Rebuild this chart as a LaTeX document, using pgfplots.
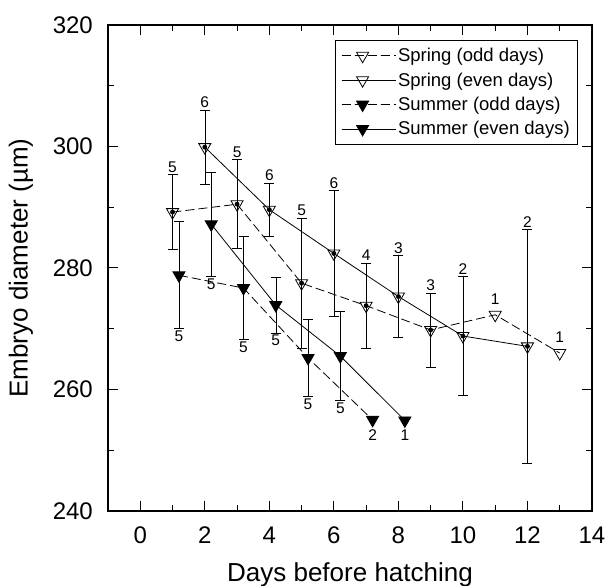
\documentclass[border=0pt]{standalone}
\usepackage{fontspec}
\setmainfont{Liberation Sans}
\usepackage{pgfplots}
\usepackage{pgfplotstable}
\pgfplotsset{compat=1.18}

% spring, odd days
\pgfplotstableread{
x y
1 289.2
3 290.5
5 277.5
7 273.8
9 269.8
11 272.3
13 266.0
}\springodd
\pgfplotstableread{
x y e
1 289.2 6.2
3 290.5 7.3
5 277.5 10.7
7 273.8 7.0
9 269.8 6.1
}\springodderr
\pgfplotstableread{
x y n
1 295.4 5
3 297.8 5
5 288.2 5
7 280.8 4
9 275.9 3
11 273.6 1
13 267.3 1
}\springoddn

% spring, even days
\pgfplotstableread{
x y e
2 299.9 6.1
4 289.6 4.4
6 282.4 10.3
8 275.3 6.7
10 268.8 9.8
12 267.1 19.2
}\springeven
\pgfplotstableread{
x y n
2 306.0 6
4 294.0 6
6 292.7 6
8 282.0 3
10 278.6 2
12 286.3 2
}\springevenn

% summer, odd days
\pgfplotstableread{
x y
1.2 278.8
3.2 276.7
5.2 265.2
7.2 255.0
}\summerodd
\pgfplotstableread{
x y e
1.2 278.8 8.8
3.2 276.7 8.5
5.2 265.2 6.3
}\summerodderr
\pgfplotstableread{
x y n
1.2 270.0 5
3.2 268.2 5
5.2 258.9 5
7.2 253.8 2
}\summeroddn

% summer, even days
\pgfplotstableread{
x y
2.2 287.2
4.2 273.9
6.2 265.5
8.2 254.9
}\summereven
\pgfplotstableread{
x y e
2.2 287.2 8.6
4.2 273.9 4.6
6.2 265.5 7.3
}\summereveneerr
\pgfplotstableread{
x y n
2.2 278.6 5
4.2 269.3 5
6.2 258.2 5
8.2 253.7 1
}\summerevenn

\pgfplotsset{
  errbar/.style={forget plot, only marks, mark=none, black, line width=0.8pt,
    error bars/.cd, y dir=both, y explicit,
    error mark options={rotate=90, mark size=5pt, line width=0.8pt}},
  nlabel/.style={forget plot, only marks, mark=none,
    point meta=explicit symbolic, nodes near coords,
    nodes near coords style={font=\fontsize{15.5}{17}\selectfont, inner sep=2pt}},
}

\begin{document}
\begin{tikzpicture}
\path[use as bounding box] (-108pt,-75pt) rectangle (500pt,511pt);
\begin{axis}[
  scale only axis, width=484pt, height=486pt,
  xmin=-1, xmax=14, ymin=240, ymax=320,
  xtick={0,2,...,14}, ytick={240,260,...,320},
  minor x tick num=1, minor y tick num=1,
  tick align=inside,
  major tick length=10pt, minor tick length=6pt,
  axis line style={line width=1.2pt},
  every tick/.style={black, line width=1pt},
  /pgf/number format/assume math mode=true,
  tick label style={font=\fontsize{24}{28}\selectfont},
  xticklabel style={anchor=north, inner sep=0pt, yshift=-16pt},
  yticklabel style={anchor=east, inner sep=0pt, xshift=-15pt},
  xlabel={Days before hatching},
  ylabel={Embryo diameter (µm)},
  every axis x label/.style={at={(axis description cs:0.5,0)}, yshift=-71pt,
    anchor=base, font=\fontsize{26}{30}\selectfont},
  every axis y label/.style={at={(axis description cs:0,0.5)}, xshift=-87pt,
    rotate=90, anchor=center, font=\fontsize{26}{30}\selectfont},
  legend style={at={(axis description cs:1,1)}, xshift=-14pt, yshift=-15pt,
    anchor=north east, draw=black, line width=0.6pt, fill=white,
    font=\fontsize{18.5}{22.5}\selectfont, row sep=5.5pt,
    inner xsep=6pt, inner ysep=6pt},
  legend cell align=left,
  legend image code/.code={
    \draw[mark repeat=2, mark phase=2, #1]
      plot coordinates {(0pt,0pt) (21pt,0pt) (42pt,0pt)};
    \path (0pt,0pt) -- (54pt,0pt);},
]
% error bars first, so the markers sit on top
\addplot[errbar] table[x=x, y=y, y error=e] {\springodderr};
\addplot[errbar] table[x=x, y=y, y error=e] {\springeven};
\addplot[errbar] table[x=x, y=y, y error=e] {\summerodderr};
\addplot[errbar] table[x=x, y=y, y error=e] {\summereveneerr};

\addplot[black, line width=0.8pt, dash pattern=on 9pt off 4pt,
  mark=triangle, mark size=7pt,
  mark options={solid, fill=white, rotate=180}]
  table[x=x, y=y] {\springodd};
\addlegendentry{Spring (odd days)}
\addplot[black, line width=0.8pt,
  mark=triangle, mark size=7pt,
  mark options={solid, fill=white, rotate=180}]
  table[x=x, y=y] {\springeven};
\addlegendentry{Spring (even days)}
\addplot[black, line width=0.8pt, dash pattern=on 9pt off 4pt,
  mark=triangle*, mark size=7pt,
  mark options={solid, fill=black, rotate=180}]
  table[x=x, y=y] {\summerodd};
\addlegendentry{Summer (odd days)}
\addplot[black, line width=0.8pt,
  mark=triangle*, mark size=7pt,
  mark options={solid, fill=black, rotate=180}]
  table[x=x, y=y] {\summereven};
\addlegendentry{Summer (even days)}

% sample sizes
\addplot[nlabel, nodes near coords align={anchor=south}] table[x=x, y=y, meta=n] {\springoddn};
\addplot[nlabel, nodes near coords align={anchor=south}] table[x=x, y=y, meta=n] {\springevenn};
\addplot[nlabel, nodes near coords align={anchor=north}] table[x=x, y=y, meta=n] {\summeroddn};
\addplot[nlabel, nodes near coords align={anchor=north}] table[x=x, y=y, meta=n] {\summerevenn};
\end{axis}
\end{tikzpicture}
\end{document}
